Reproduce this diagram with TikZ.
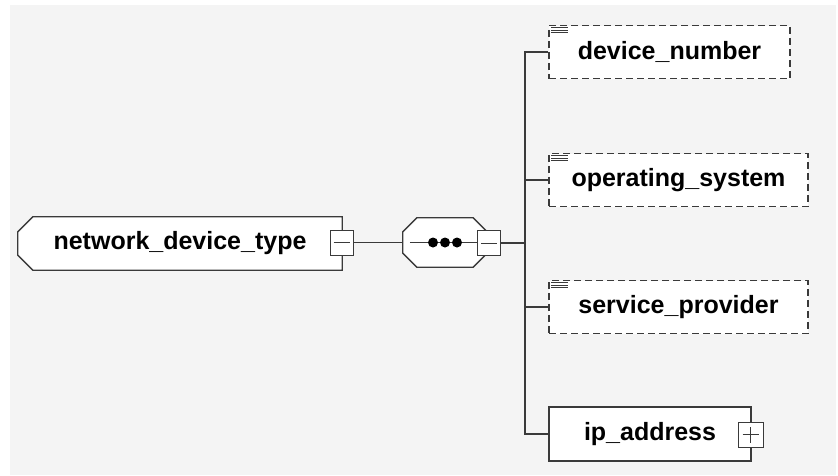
\documentclass[tikz,border=0pt]{standalone}
\usepackage{fontspec}
\setmainfont{Liberation Sans}
\usetikzlibrary{positioning,backgrounds}
\definecolor{canvas}{HTML}{F4F4F4}
\definecolor{edge}{HTML}{3A3A3A}
\tikzset{
  elem/.style   ={draw=edge,line width=1.3pt,fill=white,inner sep=0pt,
                  minimum height=53pt,font=\fontsize{25}{28}\selectfont\bfseries},
  optelem/.style={elem,dash pattern=on 7pt off 4pt,
                  path picture={\foreach \dy in {2,4.5,7}
                    \draw[edge,solid,line width=1pt]
                      ([xshift=2pt,yshift=-\dy pt]path picture bounding box.north west)
                      -- ++(17pt,0);}},
  plainbox/.style={inner sep=0pt,minimum height=53pt,
                  font=\fontsize{25}{28}\selectfont\bfseries},
  outline/.style={draw=edge,line width=1.3pt,fill=white},
  toggle/.style ={draw=edge,line width=1pt,fill=white,inner sep=0pt,
                  minimum width=23pt,minimum height=25pt},
  minus/.style  ={toggle,path picture={
                  \draw[edge,line width=0.9pt]
                    ([xshift=-8pt]path picture bounding box.center)
                    -- ([xshift=8pt]path picture bounding box.center);}},
  plus/.style   ={toggle,path picture={
                  \draw[edge,line width=0.9pt]
                    ([xshift=-8pt]path picture bounding box.center)
                    -- ([xshift=8pt]path picture bounding box.center)
                    ([yshift=-8pt]path picture bounding box.center)
                    -- ([yshift=8pt]path picture bounding box.center);}},
  link/.style   ={draw=edge,line width=1.3pt}
}
\begin{document}
\begin{tikzpicture}[x=1pt,y=-1pt]
    \useasboundingbox (0,0) rectangle (838,475);
    % --- the type and its sequence ---
    \node[plainbox,minimum width=324pt] (type) at (180,243.5) {network\_device\_type};
    \node[minimum width=84pt,minimum height=49pt,inner sep=0pt] (seq) at (445,242.5) {};
    \begin{scope}[on background layer]
      \fill[canvas] (10,5) rectangle (836,475);
      \path[outline] ([xshift=15pt]type.north west) -- (type.north east)
        -- (type.south east) -- ([xshift=15pt]type.south west)
        -- ([yshift=15pt]type.south west) -- ([yshift=-15pt]type.north west) -- cycle;
      \path[outline] ([xshift=14pt]seq.north west) -- ([xshift=-14pt]seq.north east)
        -- ([yshift=-14pt]seq.north east) -- ([yshift=14pt]seq.south east)
        -- ([xshift=-14pt]seq.south east) -- ([xshift=14pt]seq.south west)
        -- ([yshift=14pt]seq.south west) -- ([yshift=-14pt]seq.north west) -- cycle;
    \end{scope}
    \draw[link] ([xshift=7pt]seq.west) -- ([xshift=32pt]seq.center);
    \foreach \dx in {-12,0,12}
      \fill[black] ([xshift=\dx pt]seq.center) circle (5pt);
    \node[minus] (typem) at (341.5,242.5) {};
    \node[minus] (seqm) at (489,243) {};
    \draw[link] (typem.east) -- (seq.west);
    % --- children ---
    \node[optelem,minimum width=241pt] (dn) at (669.5,52) {device\_number};
    \node[optelem,minimum width=259pt] (os) at (678.5,180) {operating\_system};
    \node[optelem,minimum width=259pt] (sp) at (678.5,307) {service\_provider};
    \node[elem,minimum width=202pt,minimum height=54pt] (ip) at (650,434) {ip\_address};
    \node[plus,minimum width=25pt] (ipp) at (750.5,434.5) {};
    % --- bus ---
    \coordinate (bus) at (525,243);
    \draw[link] (seqm.east) -- (bus);
    \foreach \c in {dn,os,sp,ip}
      \draw[link] (bus) |- (\c.west);
\end{tikzpicture}
\end{document}
